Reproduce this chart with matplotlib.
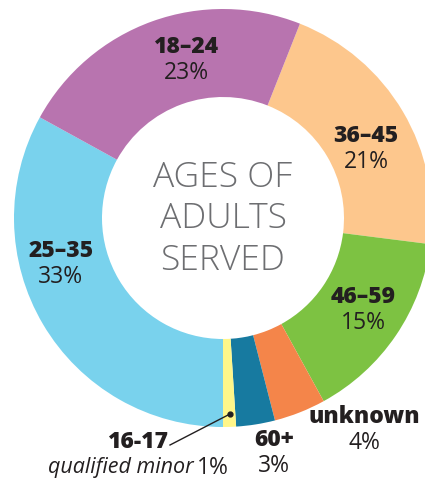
import matplotlib.pyplot as plt

# data, clockwise from the 36-45 slice
labels = ["36–45", "46–59", "unknown", "60+", "16-17", "25–35", "18–24"]
shares = [21, 15, 4, 3, 1, 33, 23]
colors = ["#FDC78D", "#7DC242", "#F4854A", "#177AA0", "#FFF689", "#79D2ED", "#B874AF"]

W, H = 425, 479
fig = plt.figure(figsize=(W / 100, H / 100), dpi=100)
ax = fig.add_axes([0, 0, 1, 1])

cx, cy, r = 223, H - 218, 209
# yellow slice ends exactly at the bottom of the ring
start = 90 - (180 - 360 * sum(shares[:5]) / 100)
ax.pie(shares, colors=colors, center=(cx, cy), radius=r, startangle=start,
       counterclock=False, wedgeprops=dict(width=88, linewidth=0),
       frame=True)
ax.set_xlim(0, W)
ax.set_ylim(0, H)
ax.set_aspect("equal")
ax.axis("off")

dark = "#231F20"
font = "Open Sans"

def y(v):
    return H - v

# slice labels (image pixel positions)
pos = {"18–24": (186, 47), "36–45": (366, 136), "25–35": (61, 251),
       "46–59": (363, 297), "unknown": (364, 417), "60+": (274, 440)}
for lab, val in zip(labels, shares):
    if lab not in pos:
        continue
    px, py = pos[lab]
    ax.text(px, y(py), lab, ha="center", va="center", fontsize=16.5,
            fontweight=800, family=font, color=dark)
    ax.text(px, y(py + 26), f"{val}%", ha="center", va="center", fontsize=16.5,
            family=font, color=dark)

# the small 1% slice
ax.text(138, y(442), "16-17", ha="center", va="center", fontsize=16.5,
        fontweight=800, family=font, color=dark)
ax.text(194, y(468), "qualified minor", ha="right", va="center", fontsize=15.5,
        style="italic", family=font, color=dark)
ax.text(197, y(468), f"{shares[4]}%", ha="left", va="center", fontsize=16.5,
        family=font, color=dark)
ax.plot([230, 170], [y(414), y(445)], color=dark, lw=1)
ax.plot([230], [y(414)], "o", color=dark, ms=3.5)

# centre title
for txt, py in zip(["AGES OF", "ADULTS", "SERVED"], [178, 219, 261]):
    ax.text(cx, y(py), txt, ha="center", va="center", fontsize=25.5,
            fontweight="light", family=font, color="#6D6E71")

fig.savefig("out.png", dpi=100)
